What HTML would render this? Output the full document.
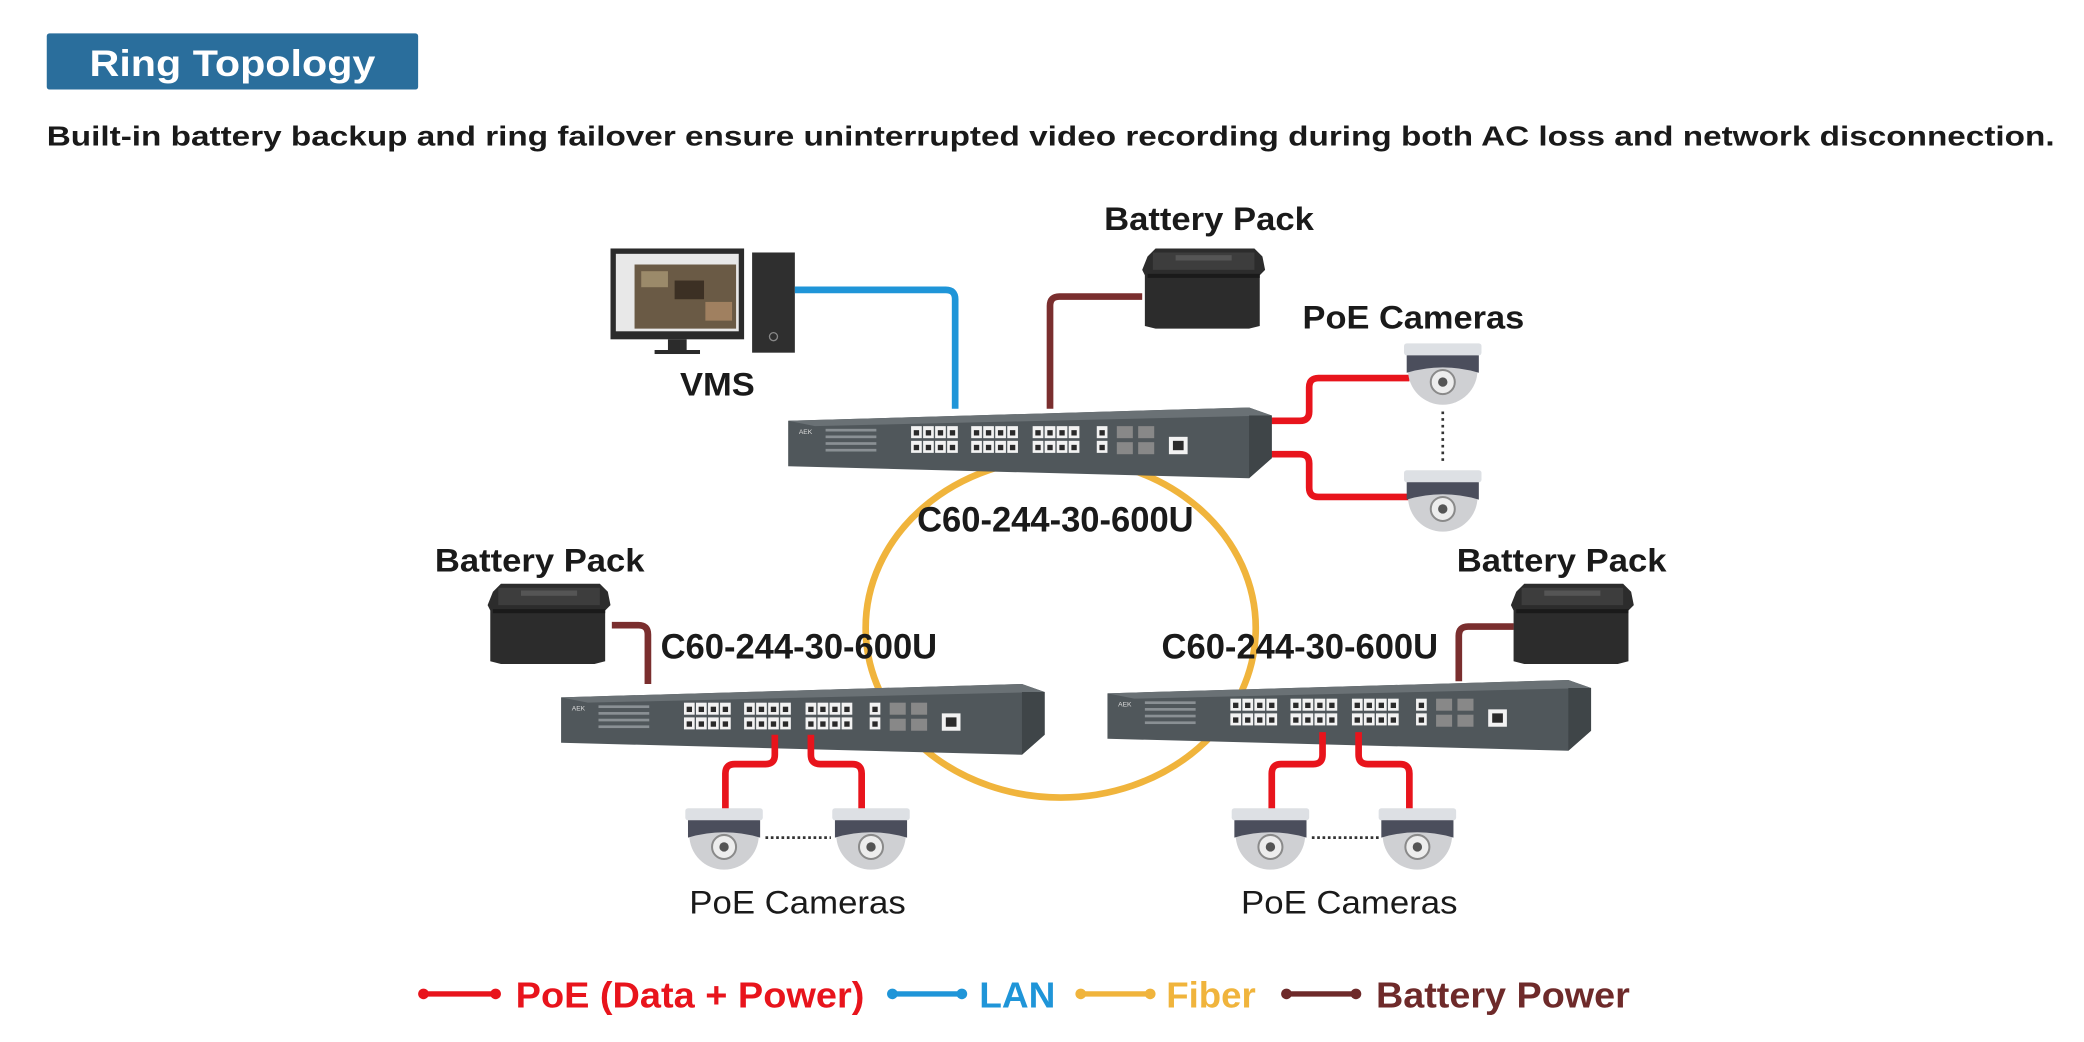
<!DOCTYPE html>
<html><head><meta charset="utf-8"><style>
html,body{margin:0;padding:0;background:#fff;}
svg{display:block;}
text{font-family:"Liberation Sans",Arial,sans-serif;}
</style></head><body>
<svg width="2084" height="1042" viewBox="0 0 1560 780" xmlns="http://www.w3.org/2000/svg">
<defs>
<g id="cam">
  <path d="M3,8 L55,8 L55,20 A26,26 0 0 1 3,20 Z" fill="#cfd0d3"/>
  <rect x="0" y="0" width="58" height="9" rx="2" fill="#dde0e4"/>
  <path d="M2,9 L56,9 L56,22 Q29,14 2,22 Z" fill="#4b4e5c"/>
  <circle cx="29" cy="29" r="9" fill="#ededed" stroke="#8a8a8a" stroke-width="1.5"/>
  <circle cx="29" cy="29" r="3.5" fill="#555"/>
</g>
<g id="bat">
  <path d="M4,6 L10,0 L84,0 L90,6 L92,16 L88,20 L88,58 L80,60 L10,60 L2,58 L2,20 L0,16 Z" fill="#2c2c2c"/>
  <rect x="8" y="3" width="76" height="13" fill="#3d3d3d"/>
  <rect x="25" y="5" width="42" height="4" fill="#555"/>
  <rect x="4" y="19" width="84" height="3" fill="#1a1a1a"/>
</g>
<g id="port"><rect width="8" height="9" fill="#f2f2f2"/><rect x="2" y="3" width="4" height="4" fill="#2a2a2a"/></g>
<g id="grp">
  <use href="#port" x="0" y="0"/><use href="#port" x="9" y="0"/><use href="#port" x="18" y="0"/><use href="#port" x="27" y="0"/>
  <use href="#port" x="0" y="11"/><use href="#port" x="9" y="11"/><use href="#port" x="18" y="11"/><use href="#port" x="27" y="11"/>
</g>
<g id="sw">
  <polygon points="0,12 345,2 362,8 362,40 345,55 0,46" fill="#50575b"/>
  <polygon points="0,12 345,2 362,8 20,16" fill="#6a7175"/>
  <polygon points="345,8 362,8 362,40 345,55" fill="#3f4548"/>
  <text x="8" y="22" font-size="5" fill="#ddd">AEK</text>
  <rect x="28" y="18" width="38" height="2" fill="#8a9094"/><rect x="28" y="23" width="38" height="2" fill="#8a9094"/><rect x="28" y="28" width="38" height="2" fill="#8a9094"/><rect x="28" y="33" width="38" height="2" fill="#8a9094"/>
  <use href="#grp" x="92" y="16"/><use href="#grp" x="137" y="16"/><use href="#grp" x="183" y="16"/>
  <use href="#port" x="231" y="16"/><use href="#port" x="231" y="27"/>
  <rect x="246" y="16" width="12" height="9" fill="#888"/><rect x="262" y="16" width="12" height="9" fill="#888"/>
  <rect x="246" y="28" width="12" height="9" fill="#888"/><rect x="262" y="28" width="12" height="9" fill="#888"/>
  <rect x="285" y="24" width="14" height="13" fill="#f2f2f2"/><rect x="288" y="27" width="8" height="7" fill="#2a2a2a"/>
</g>
</defs>

<rect x="35" y="25" width="278" height="42" rx="2" fill="#2a6e9c"/>
<text x="174" y="57" font-size="28" font-weight="bold" fill="#fff" text-anchor="middle" textLength="214" lengthAdjust="spacingAndGlyphs">Ring Topology</text>
<text x="35" y="109" font-size="21" font-weight="bold" fill="#1a1a1a" textLength="1503" lengthAdjust="spacingAndGlyphs">Built-in battery backup and ring failover ensure uninterrupted video recording during both AC loss and network disconnection.</text>

<ellipse cx="794" cy="470" rx="146" ry="127" fill="none" stroke="#f0b43c" stroke-width="5"/>

<rect x="457" y="186" width="100" height="68" fill="#2b2b2b"/>
<rect x="461" y="190" width="92" height="58" fill="#e8e8e8"/>
<rect x="475" y="198" width="76" height="48" fill="#6a5a45"/>
<rect x="480" y="203" width="20" height="12" fill="#9b8a6a"/><rect x="505" y="210" width="22" height="14" fill="#3c3024"/><rect x="528" y="226" width="20" height="14" fill="#a08060"/>
<rect x="500" y="254" width="14" height="8" fill="#2b2b2b"/><rect x="490" y="262" width="34" height="3" fill="#2b2b2b"/>
<rect x="563" y="189" width="32" height="75" fill="#2f2f2f"/>
<circle cx="579" cy="252" r="3" fill="none" stroke="#888"/>
<text x="537" y="296" font-size="24" font-weight="bold" text-anchor="middle" fill="#1a1a1a" textLength="56" lengthAdjust="spacingAndGlyphs">VMS</text>

<path d="M595,217 H708 Q715,217 715,224 V306" fill="none" stroke="#1f95d8" stroke-width="5"/>
<path d="M855,222 H793 Q786,222 786,229 V306" fill="none" stroke="#7a2e2e" stroke-width="5"/>
<path d="M950,315 H973 Q980,315 980,308 V290 Q980,283 987,283 H1055" fill="none" stroke="#e8141c" stroke-width="5"/>
<path d="M938,340 H973 Q980,340 980,347 V365 Q980,372 987,372 H1055" fill="none" stroke="#e8141c" stroke-width="5"/>

<use href="#bat" x="855" y="186"/>
<text x="905" y="172" font-size="24" font-weight="bold" text-anchor="middle" fill="#1a1a1a" textLength="157" lengthAdjust="spacingAndGlyphs">Battery Pack</text>
<text x="1058" y="246" font-size="24" font-weight="bold" text-anchor="middle" fill="#1a1a1a" textLength="166" lengthAdjust="spacingAndGlyphs">PoE Cameras</text>
<use href="#cam" x="1051" y="257"/>
<use href="#cam" x="1051" y="352"/>
<line x1="1080" y1="308" x2="1080" y2="348" stroke="#333" stroke-width="2" stroke-dasharray="2,3"/>

<use href="#sw" x="590" y="303"/>
<text x="790" y="398" font-size="26" font-weight="bold" text-anchor="middle" fill="#1a1a1a" textLength="207" lengthAdjust="spacingAndGlyphs">C60-244-30-600U</text>

<text x="404" y="428" font-size="24" font-weight="bold" text-anchor="middle" fill="#1a1a1a" textLength="157" lengthAdjust="spacingAndGlyphs">Battery Pack</text>
<use href="#bat" x="365" y="437"/>
<path d="M458,468 H478 Q485,468 485,475 V512" fill="none" stroke="#7a2e2e" stroke-width="5"/>
<text x="598" y="493" font-size="26" font-weight="bold" text-anchor="middle" fill="#1a1a1a" textLength="207" lengthAdjust="spacingAndGlyphs">C60-244-30-600U</text>
<use href="#sw" x="420" y="510"/>
<path d="M580,550 V565 Q580,572 573,572 H550 Q543,572 543,579 V606" fill="none" stroke="#e8141c" stroke-width="5"/>
<path d="M607,550 V565 Q607,572 614,572 H638 Q645,572 645,579 V606" fill="none" stroke="#e8141c" stroke-width="5"/>
<use href="#cam" x="513" y="605"/>
<use href="#cam" x="623" y="605"/>
<line x1="573" y1="627" x2="622" y2="627" stroke="#333" stroke-width="2" stroke-dasharray="2,2"/>
<text x="597" y="684" font-size="24" text-anchor="middle" fill="#1a1a1a" textLength="162" lengthAdjust="spacingAndGlyphs">PoE Cameras</text>

<text x="1169" y="428" font-size="24" font-weight="bold" text-anchor="middle" fill="#1a1a1a" textLength="157" lengthAdjust="spacingAndGlyphs">Battery Pack</text>
<use href="#bat" x="1131" y="437"/>
<path d="M1133,469 H1099 Q1092,469 1092,476 V510" fill="none" stroke="#7a2e2e" stroke-width="5"/>
<text x="973" y="493" font-size="26" font-weight="bold" text-anchor="middle" fill="#1a1a1a" textLength="207" lengthAdjust="spacingAndGlyphs">C60-244-30-600U</text>
<use href="#sw" x="829" y="507"/>
<path d="M990,548 V565 Q990,572 983,572 H959 Q952,572 952,579 V606" fill="none" stroke="#e8141c" stroke-width="5"/>
<path d="M1017,548 V565 Q1017,572 1024,572 H1048 Q1055,572 1055,579 V606" fill="none" stroke="#e8141c" stroke-width="5"/>
<use href="#cam" x="922" y="605"/>
<use href="#cam" x="1032" y="605"/>
<line x1="982" y1="627" x2="1032" y2="627" stroke="#333" stroke-width="2" stroke-dasharray="2,2"/>
<text x="1010" y="684" font-size="24" text-anchor="middle" fill="#1a1a1a" textLength="162" lengthAdjust="spacingAndGlyphs">PoE Cameras</text>

<g stroke-width="4">
<line x1="317" y1="744" x2="371" y2="744" stroke="#e8141c"/><circle cx="317" cy="744" r="4" fill="#e8141c"/><circle cx="371" cy="744" r="4" fill="#e8141c"/>
<line x1="668" y1="744" x2="720" y2="744" stroke="#1f95d8"/><circle cx="668" cy="744" r="4" fill="#1f95d8"/><circle cx="720" cy="744" r="4" fill="#1f95d8"/>
<line x1="809" y1="744" x2="861" y2="744" stroke="#f0b43c"/><circle cx="809" cy="744" r="4" fill="#f0b43c"/><circle cx="861" cy="744" r="4" fill="#f0b43c"/>
<line x1="963" y1="744" x2="1015" y2="744" stroke="#6e2a2a"/><circle cx="963" cy="744" r="4" fill="#6e2a2a"/><circle cx="1015" cy="744" r="4" fill="#6e2a2a"/>
</g>
<text x="386" y="754" font-size="27" font-weight="bold" fill="#e8141c" textLength="261" lengthAdjust="spacingAndGlyphs">PoE (Data + Power)</text>
<text x="733" y="754" font-size="27" font-weight="bold" fill="#1f95d8" textLength="57" lengthAdjust="spacingAndGlyphs">LAN</text>
<text x="873" y="754" font-size="27" font-weight="bold" fill="#f0b43c" textLength="67" lengthAdjust="spacingAndGlyphs">Fiber</text>
<text x="1030" y="754" font-size="27" font-weight="bold" fill="#6e2a2a" textLength="190" lengthAdjust="spacingAndGlyphs">Battery Power</text>
</svg>
</body></html>
